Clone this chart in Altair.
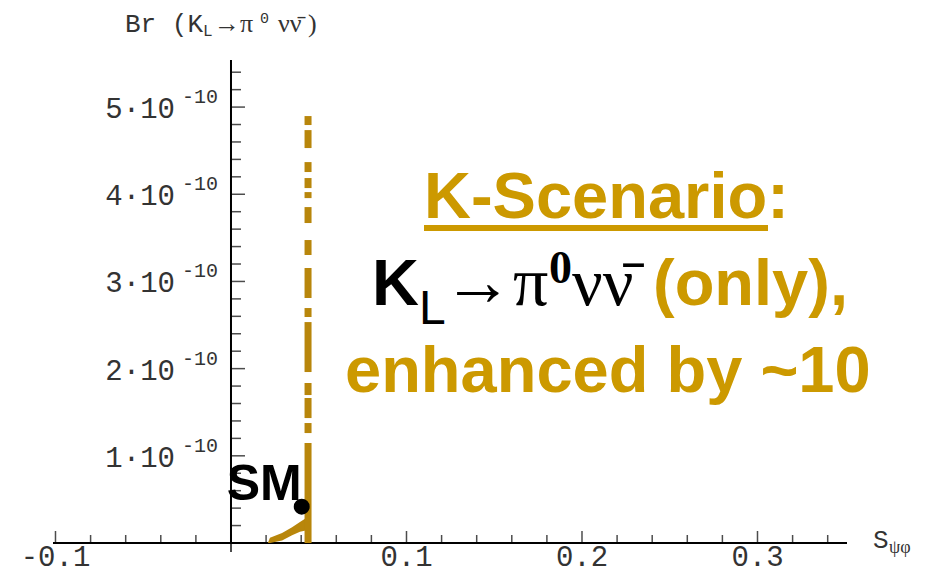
import altair as alt
import pandas as pd

# ---------------- values (Br in units of 1e-10) ----------------
seg_x = 0.0439
seg_lo = [0.0, 1.261, 1.433, 1.697, 1.961, 2.592, 2.810, 3.303, 3.670, 3.956, 4.071, 4.255, 4.530, 4.794]
seg_hi = [1.147, 1.376, 1.663, 1.835, 2.534, 2.695, 3.154, 3.475, 3.853, 4.025, 4.186, 4.369, 4.736, 4.897]

band_x = [0.0210, 0.0222, 0.0291, 0.0348, 0.0393, 0.0439]
band_hi = [0.00, 0.06, 0.115, 0.18, 0.24, 0.30]
band_lo = [0.00, 0.00, 0.03, 0.09, 0.13, 0.15]

sm_x = [0.0403]
sm_y = [0.416]
sm_label = ["SM"]

x_range = [-0.10142, 0.35100]
y_range = [0.0, 5.54]
x_major = [-0.1, 0.1, 0.2, 0.3]
x_major_labels = ["-0.1", "0.1", "0.2", "0.3"]
x_minor = [-0.08, -0.06, -0.04, -0.02, 0.02, 0.04, 0.06, 0.08,
           0.12, 0.14, 0.16, 0.18, 0.22, 0.24, 0.26, 0.28, 0.32, 0.34]
y_major = [1, 2, 3, 4, 5]
y_major_labels = ["1·10", "2·10", "3·10", "4·10", "5·10"]
y_exp_labels = ["-10", "-10", "-10", "-10", "-10"]
y_minor = [0.2, 0.4, 0.6, 0.8, 1.2, 1.4, 1.6, 1.8, 2.2, 2.4, 2.6, 2.8,
           3.2, 3.4, 3.6, 3.8, 4.2, 4.4, 4.6, 4.8, 5.2, 5.4]

# ---------------- styling ----------------
GOLD = "#CC9900"
BAND = "#B8860B"
MONO = "Liberation Mono"
SERIF = "Liberation Serif"
SANS = "Liberation Sans"

X = alt.Scale(domain=x_range, nice=False, zero=False)
Y = alt.Scale(domain=y_range, nice=False, zero=False)

W, H = 794, 483


def xq(field):
    return alt.X(field, type="quantitative", scale=X, axis=None)


def yq(field):
    return alt.Y(field, type="quantitative", scale=Y, axis=None)


# ---------------- axes (lines, ticks, labels) ----------------
xaxis_df = pd.DataFrame({"x": [x_range[0]], "x2": [x_range[1]], "y": [0]})
yaxis_df = pd.DataFrame({"x": [0], "y": [y_range[0]], "y2": [y_range[1]]})
origin_df = pd.DataFrame({"x": [0], "y": [0]})
xminor_df = pd.DataFrame({"x": x_minor, "y": [0] * len(x_minor)})
xmajor_df = pd.DataFrame({"x": x_major, "y": [0] * len(x_major), "lab": x_major_labels})
yminor_df = pd.DataFrame({"x": [0] * len(y_minor), "y": y_minor})
ymajor_df = pd.DataFrame({"x": [0] * len(y_major), "y": y_major,
                          "lab": y_major_labels, "exp": y_exp_labels})

xaxis = alt.Chart(xaxis_df).mark_rule(strokeWidth=2, color="black").encode(
    x=xq("x"), x2="x2:Q", y=yq("y"))
yaxis = alt.Chart(yaxis_df).mark_rule(strokeWidth=2, color="black").encode(
    x=xq("x"), y=yq("y"), y2="y2:Q")
origin_tick = alt.Chart(origin_df).mark_tick(orient="vertical", size=18, thickness=2,
                                             color="black").encode(x=xq("x"), y=yq("y"))
xminor = alt.Chart(xminor_df).mark_tick(orient="vertical", size=8, thickness=1.5,
                                        yOffset=-4, color="black").encode(x=xq("x"), y=yq("y"))
xmajor = alt.Chart(xmajor_df).mark_tick(orient="vertical", size=12, thickness=1.5,
                                        yOffset=-6, color="black").encode(x=xq("x"), y=yq("y"))
yminor = alt.Chart(yminor_df).mark_tick(orient="horizontal", size=10, thickness=1.5,
                                        xOffset=5, color="black").encode(x=xq("x"), y=yq("y"))
ymajor = alt.Chart(ymajor_df).mark_tick(orient="horizontal", size=14, thickness=1.5,
                                        xOffset=7, color="black").encode(x=xq("x"), y=yq("y"))
xlabels = alt.Chart(xmajor_df).mark_text(font=MONO, fontSize=29, align="center",
                                         baseline="alphabetic", dy=23, color="#333").encode(
    x=xq("x"), y=yq("y"), text="lab:N")
ylabels = alt.Chart(ymajor_df).mark_text(font=MONO, fontSize=29, align="right",
                                         baseline="alphabetic", dx=-56, dy=11, color="#333").encode(
    x=xq("x"), y=yq("y"), text="lab:N")
yexp = alt.Chart(ymajor_df).mark_text(font=MONO, fontSize=20, align="right",
                                      baseline="alphabetic", dx=-13, dy=-4, color="#333").encode(
    x=xq("x"), y=yq("y"), text="exp:N")

# ---------------- data marks ----------------
seg_df = pd.DataFrame({"x": [seg_x] * len(seg_lo), "lo": seg_lo, "hi": seg_hi})
segments = alt.Chart(seg_df).mark_rule(strokeWidth=7, color=BAND).encode(
    x=xq("x"), y=yq("lo"), y2="hi:Q")

band_df = pd.DataFrame({"x": band_x, "hi": band_hi, "lo": band_lo})
band = alt.Chart(band_df).mark_area(color=BAND, opacity=1).encode(
    x=xq("x"), y=yq("hi"), y2="lo:Q")

sm_df = pd.DataFrame({"x": sm_x, "y": sm_y, "lab": sm_label})
sm_pt = alt.Chart(sm_df).mark_circle(size=254, color="black", opacity=1).encode(
    x=xq("x"), y=yq("y"))
sm_txt = alt.Chart(sm_df).mark_text(font=SANS, fontWeight="bold", fontSize=50,
                                    align="right", baseline="alphabetic", dy=-7,
                                    color="black").encode(x=xq("x"), y=yq("y"), text="lab:N")


def txt(s, x, y, size, font, color, weight="normal", align="left"):
    return alt.Chart(pd.DataFrame({"t": [s]})).mark_text(
        align=align, baseline="alphabetic", font=font, fontSize=size,
        fontWeight=weight, color=color,
    ).encode(x=alt.value(x), y=alt.value(y), text="t:N")


annotations = [
    # y-axis title: Br (K_L -> pi0 nu nubar)
    txt("Br (K", 72, -28, 26, MONO, "#333"),
    txt("L", 150, -24, 16, MONO, "#333"),
    txt("→π", 161, -28, 26, SERIF, "#333"),
    txt("0", 207, -37, 15, MONO, "#333"),
    txt("νν\u0304 )", 225, -28, 26, SERIF, "#333"),
    # x-axis title S_psi phi
    txt("S", 820, 488, 26, MONO, "#333"),
    txt("ψφ", 836, 493, 18, SERIF, "#333"),
    # right-hand text block
    txt("K-Scenario:", 371, 158, 65, SANS, GOLD, "bold"),
    txt("K", 319, 245, 65, SANS, "black", "bold"),
    txt("L", 366, 264, 48, SANS, "black"),
    txt("→π", 390, 245, 70, SERIF, "black"),
    txt("0", 496, 223, 46, SERIF, "black", "bold"),
    txt("νν\u0304", 519, 245, 68, SERIF, "black"),
    txt("(only),", 600, 245, 65, SANS, GOLD, "bold"),
    txt("enhanced by ~10", 292, 332, 65, SANS, GOLD, "bold"),
]

underline = alt.Chart(pd.DataFrame({"a": [0]})).mark_rule(strokeWidth=6, color=GOLD).encode(
    x=alt.value(371), x2=alt.value(715), y=alt.value(168)
)

chart = alt.layer(
    xaxis, yaxis, origin_tick, xminor, xmajor, yminor, ymajor, xlabels, ylabels, yexp,
    band, segments, sm_pt, sm_txt, underline, *annotations,
).properties(
    width=W, height=H,
    autosize=alt.AutoSizeParams(type="none"),
    padding={"left": 45, "top": 52, "right": 70, "bottom": 24},
).configure_view(strokeWidth=0)

chart.save("out.html", embed_options={"renderer": "svg", "actions": False})
